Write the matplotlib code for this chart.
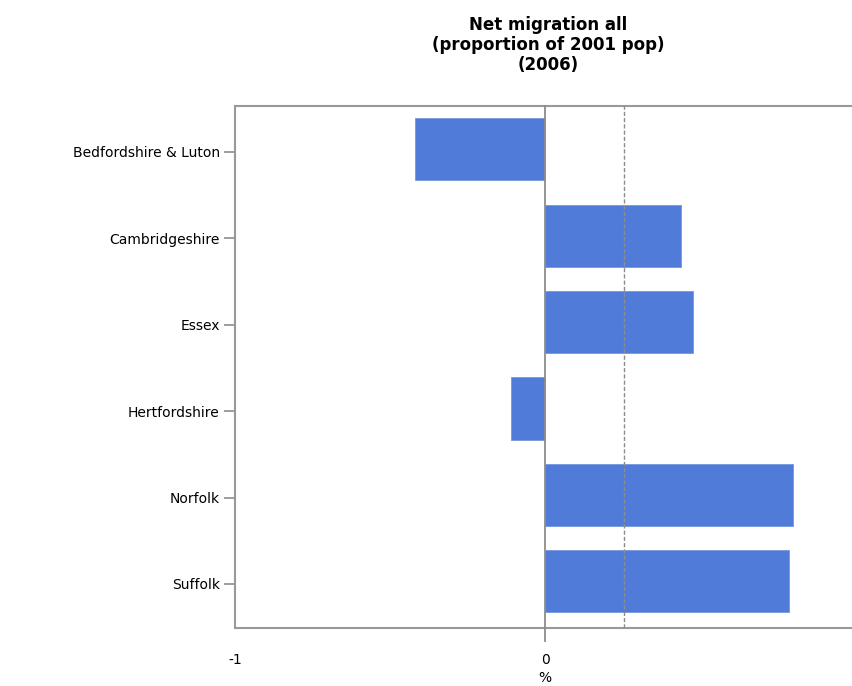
import numpy as np
import matplotlib.pyplot as plt

# Data
areas = ['Bedfordshire & Luton', 'Cambridgeshire', 'Essex',
         'Hertfordshire', 'Norfolk', 'Suffolk']
net_migration = [-0.42, 0.44, 0.477, -0.11, 0.80, 0.787]
region_average = 0.255
x_ticks = [-1, 0]
x_tick_labels = ['-1', '0']

plt.rcParams['font.family'] = ['DejaVu Sans']

fig = plt.figure(figsize=(8.52, 6.86), dpi=100)
W, H = 852, 686
# axes from x=235 to beyond right edge, y=106 to 628 (pixels)
ax = fig.add_axes([235 / W, 1 - 628 / H, (855 - 235) / W, (628 - 106) / H])

pos = np.arange(len(areas))
ax.barh(pos - 0.03, net_migration, height=0.72, color='#507BD8',
        edgecolor='#7396E0', linewidth=0.6, zorder=2)

# zero line, extending below the axes like a tick
ax.axvline(0, ymin=-0.024, ymax=1, color='#8c8c8c', linewidth=1.3,
           clip_on=False, zorder=3)
# regional average
ax.axvline(region_average, color='#8c8c8c', linewidth=1.0,
           linestyle=(0, (3, 1.5)), zorder=3)

ax.set_xlim(-1, 1)
ax.set_ylim(len(areas) - 0.49, -0.53)

ax.set_yticks(pos)
ax.set_yticklabels(areas, fontsize=10)
ax.set_xticks(x_ticks)
ax.set_xticklabels(x_tick_labels, fontsize=10)
ax.tick_params(axis='y', length=8, width=1.2, color='#8c8c8c', pad=3)
ax.tick_params(axis='x', length=0, pad=18)

for side in ['left', 'top', 'bottom']:
    ax.spines[side].set_color('#999999')
    ax.spines[side].set_linewidth(1.5)
ax.spines['right'].set_visible(False)

ax.set_xlabel('%', fontsize=10, labelpad=3)
fig.text(548 / W, 1 - 45 / H,
         'Net migration all\n(proportion of 2001 pop)\n(2006)',
         ha='center', va='center', fontsize=12, fontweight='bold',
         linespacing=1.15)

fig.savefig('out.png', dpi=100)
